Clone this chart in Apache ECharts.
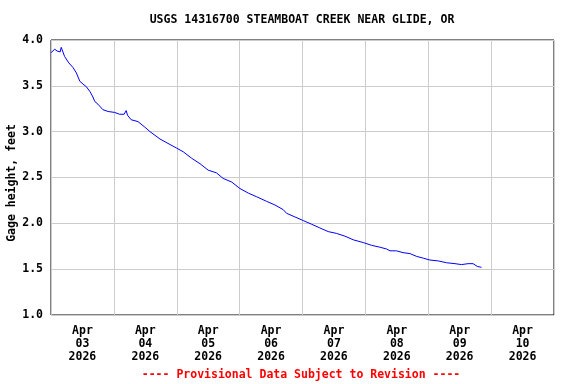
<!DOCTYPE html>
<html>
<head>
<meta charset="utf-8">
<script src="https://cdn.jsdelivr.net/npm/echarts@6/dist/echarts.min.js"></script>
<style>html,body{margin:0;padding:0;background:#fff}#c{width:576px;height:384px}</style>
</head>
<body>
<div id="c"></div>
<script>
// Hours since Apr 03 2026 00:00
const hours = [0, 1.4, 2.3, 3.5, 3.9, 5.2, 6.8, 8.4, 9.7, 11.0, 12.2, 13.5, 14.8, 15.8, 16.7, 17.9, 19.8, 21.8, 24.3, 26.2, 27.9, 28.7, 29.2, 30.6, 33.2, 35.8, 37.8, 41.6, 45.4, 48.0, 50.5, 53.7, 56.9, 60.0, 63.2, 65.7, 69.0, 72.1, 75.3, 78.5, 82.3, 85.5, 88.6, 89.9, 93.1, 96.3, 99.5, 102.6, 105.8, 109.0, 112.2, 115.4, 119.2, 122.4, 125.5, 128.1, 129.4, 131.9, 134.4, 137.0, 139.5, 142.1, 144.6, 147.8, 151.0, 154.2, 156.7, 159.2, 161.1, 162.7, 164.3];
const gageHeight = [3.86, 3.90, 3.88, 3.87, 3.92, 3.82, 3.75, 3.70, 3.64, 3.55, 3.52, 3.49, 3.44, 3.39, 3.33, 3.30, 3.24, 3.22, 3.21, 3.19, 3.19, 3.23, 3.18, 3.13, 3.11, 3.05, 3.00, 2.92, 2.86, 2.82, 2.78, 2.71, 2.65, 2.58, 2.55, 2.49, 2.45, 2.38, 2.33, 2.29, 2.24, 2.20, 2.15, 2.11, 2.07, 2.03, 1.99, 1.95, 1.91, 1.89, 1.86, 1.82, 1.79, 1.76, 1.74, 1.72, 1.70, 1.70, 1.68, 1.67, 1.64, 1.62, 1.60, 1.59, 1.57, 1.56, 1.55, 1.56, 1.56, 1.53, 1.52];
const dayLabels = ['03', '04', '05', '06', '07', '08', '09', '10'];
const monthLabel = 'Apr';
const yearLabel = '2026';
const titleText = 'USGS 14316700 STEAMBOAT CREEK NEAR GLIDE, OR';
const yAxisTitle = 'Gage height, feet';
const footerText = '---- Provisional Data Subject to Revision ----';

const FONT = 'DejaVu Sans Mono';
const chart = echarts.init(document.getElementById('c'), null, {renderer: 'canvas'});
chart.setOption({
  animation: false,
  backgroundColor: '#fff',
  graphic: [{
    type: 'text', x: 302, y: 20,
    style: {text: titleText, fill: '#000', font: 'bold 11.5px "DejaVu Sans Mono"', align: 'center', verticalAlign: 'middle'}
  }, {
    type: 'text', x: 301, y: 375,
    style: {text: footerText, fill: '#ff0000', font: 'bold 11.5px "DejaVu Sans Mono"', align: 'center', verticalAlign: 'middle'}
  }, {
    type: 'text', x: 12, y: 183, rotation: Math.PI / 2,
    style: {text: yAxisTitle, fill: '#000', font: 'bold 11.5px "DejaVu Sans Mono"', align: 'center', verticalAlign: 'middle'}
  }],
  grid: {left: 51, right: 22, top: 40, bottom: 69, outerBoundsMode: 'none', containLabel: false,
    show: true, borderColor: '#000', borderWidth: 1, backgroundColor: 'transparent'},
  xAxis: [{
    type: 'value', min: 0, max: 192, interval: 24,
    axisLine: {show: false}, axisTick: {show: false}, axisLabel: {show: false},
    splitLine: {show: true, lineStyle: {color: '#cccccc', width: 1}}
  }, {
    type: 'value', min: 0, max: 192, interval: 12, position: 'bottom',
    axisLine: {show: false}, axisTick: {show: false}, splitLine: {show: false},
    axisLabel: {
      show: true, margin: 10, lineHeight: 13,
      fontFamily: FONT, fontWeight: 'bold', fontSize: 11.5, color: '#000',
      formatter: function (v) {
        if (v % 24 !== 12) return '';
        const i = Math.floor(v / 24);
        return monthLabel + '\n' + dayLabels[i] + '\n' + yearLabel;
      }
    }
  }],
  yAxis: {
    type: 'value', min: 1, max: 4, interval: 0.5,
    axisLine: {show: false}, axisTick: {show: false},
    axisLabel: {margin: 8, fontFamily: FONT, fontWeight: 'bold', fontSize: 11.5, color: '#000',
      formatter: function (v) { return v.toFixed(1); }},
    splitLine: {show: true, lineStyle: {color: '#cccccc', width: 1}}
  },
  series: [{
    type: 'line', xAxisIndex: 0,
    data: hours.map((h, i) => [h, gageHeight[i]]),
    showSymbol: false, symbol: 'none',
    lineStyle: {color: '#0000ff', width: 1},
    z: 3
  }]
});
</script>
</body>
</html>
